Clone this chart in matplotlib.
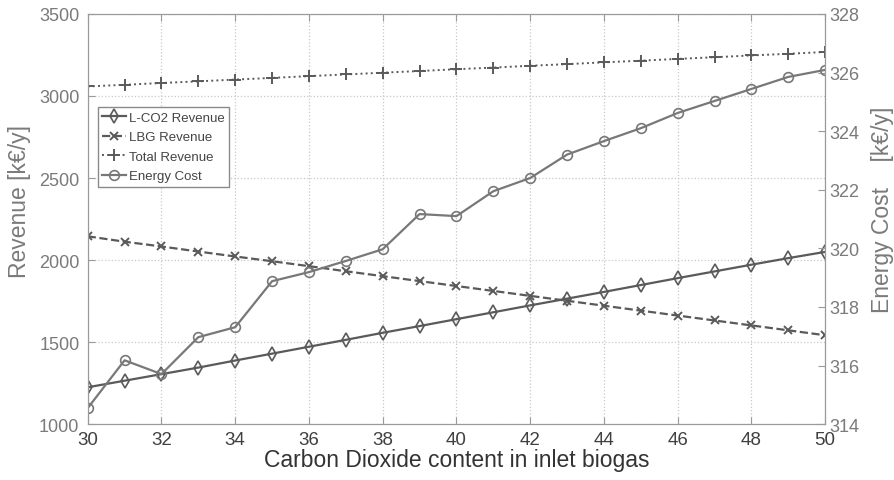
import matplotlib
matplotlib.use("Agg")
import matplotlib.pyplot as plt
import numpy as np

plt.rcParams['font.family'] = ['Liberation Sans', 'DejaVu Sans']

# CO2 content in inlet biogas [%]
co2_content = [30, 31, 32, 33, 34, 35, 36, 37, 38, 39, 40,
               41, 42, 43, 44, 45, 46, 47, 48, 49, 50]

# Revenues [k€/y]
lco2_revenue = [1225, 1265, 1305, 1345, 1388, 1430, 1472, 1514, 1557, 1598, 1640,
                1682, 1724, 1765, 1806, 1848, 1890, 1931, 1972, 2012, 2050]
lbg_revenue = [2145, 2112, 2083, 2052, 2022, 1993, 1963, 1932, 1902, 1872, 1842,
               1812, 1782, 1752, 1722, 1692, 1662, 1632, 1602, 1572, 1542]
total_revenue = [3058, 3068, 3079, 3089, 3100, 3110, 3121, 3131, 3142, 3152, 3163,
                 3173, 3184, 3194, 3205, 3215, 3226, 3236, 3247, 3257, 3268]

# Energy cost [k€/y]
energy_cost = [314.55, 316.18, 315.71, 316.97, 317.31, 318.88, 319.19, 319.57, 319.97,
               321.17, 321.10, 321.95, 322.40, 323.20, 323.66, 324.10, 324.62, 325.03,
               325.44, 325.85, 326.09]

x_ticks = [30, 32, 34, 36, 38, 40, 42, 44, 46, 48, 50]
rev_ticks = [1000, 1500, 2000, 2500, 3000, 3500]
cost_ticks = [314, 316, 318, 320, 322, 324, 326, 328]

line_col = '#5a5a5a'
tick_col = '#7a7a7a'
spine_col = '#9a9a9a'

fig = plt.figure(figsize=(8.95, 4.81), dpi=100)
ax = fig.add_axes([0.098, 0.116, 0.824, 0.853])
ax2 = ax.twinx()

l1, = ax.plot(co2_content, lco2_revenue, '-', color=line_col, lw=1.6,
              marker='d', ms=7, mfc='none', mec=line_col, mew=1.2, label='L-CO2 Revenue')
l2, = ax.plot(co2_content, lbg_revenue, '--', color=line_col, lw=1.6,
              marker='x', ms=6, mec=line_col, mew=1.4, label='LBG Revenue')
l3, = ax.plot(co2_content, total_revenue, ':', color=line_col, lw=1.4,
              marker='+', ms=8, mec=line_col, mew=1.4, label='Total Revenue')
l4, = ax2.plot(co2_content, energy_cost, '-', color='#787878', lw=1.6,
               marker='o', ms=7, mfc='none', mec='#787878', mew=1.2, label='Energy Cost')

ax.set_xlim(30, 50)
ax.set_ylim(1000, 3500)
ax2.set_ylim(314, 328)
ax.set_xticks(x_ticks)
ax.set_yticks(rev_ticks)
ax2.set_yticks(cost_ticks)

ax.grid(True, color='#c8c8c8', linestyle=':', linewidth=0.9)

for a in (ax, ax2):
    for s in a.spines.values():
        s.set_color(spine_col)
    a.tick_params(direction='in', color=spine_col, length=5)

ax.tick_params(axis='x', labelsize=13.5, labelcolor='#404040', pad=5, top=True)
ax.tick_params(axis='y', labelsize=13, labelcolor=tick_col, pad=6)
ax2.tick_params(axis='y', labelsize=13, labelcolor=tick_col, pad=3)

ax.set_xlabel('Carbon Dioxide content in inlet biogas', fontsize=16.5, color='#333333', labelpad=0)
ax.set_ylabel('Revenue [k€/y]', fontsize=16.5, color=tick_col)
ax.yaxis.set_label_coords(-0.077, 0.546)
ax2.set_ylabel('Energy Cost    [k€/y]', fontsize=16.5, color=tick_col)
ax2.yaxis.set_label_coords(1.062, 0.524)

leg = ax.legend(handles=[l1, l2, l3, l4], loc='upper left',
                bbox_to_anchor=(0.0136, 0.773), fontsize=9.5, frameon=True,
                fancybox=False, edgecolor='#8a8a8a', framealpha=1,
                handlelength=1.8, handletextpad=0.2, labelspacing=0.55,
                borderpad=0.35, borderaxespad=0, labelcolor='#444444')
leg.get_frame().set_linewidth(1.0)

fig.savefig('out.png', dpi=100)
